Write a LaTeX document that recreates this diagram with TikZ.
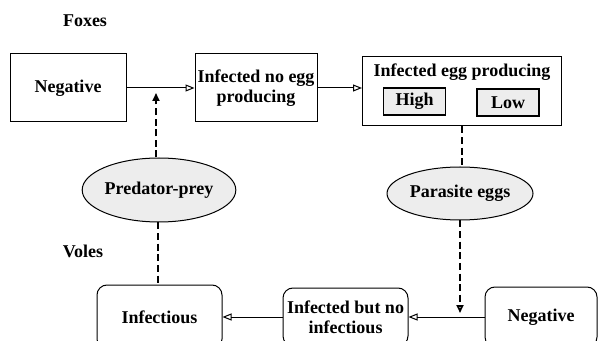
\documentclass[tikz,border=0pt]{standalone}
\usepackage{fontspec}
\setmainfont{Liberation Serif}
\usetikzlibrary{shapes.geometric,arrows.meta,calc}

\begin{document}
\begin{tikzpicture}[x=0.5pt,y=-0.5pt,
		font=\bfseries\fontsize{9}{10}\selectfont,
		statebox/.style={draw,line width=0.5pt,inner sep=1pt,align=center},
		levelbox/.style={draw,line width=0.6pt,fill=gray!14,inner sep=0pt,minimum width=31pt,minimum height=13.5pt},
		routeoval/.style={ellipse,draw,line width=0.5pt,fill=gray!14,inner sep=0pt},
		flow/.style={-{Triangle[open,length=4.5pt,width=3.5pt]},line width=0.5pt},
		route/.style={line width=0.9pt,dash pattern=on 3.5pt off 1.8pt}
		]
		\clip (0,0) rectangle (598,341);
		\useasboundingbox (0,0) rectangle (598,341);

		\node (foxes) at (85,21) {Foxes};
		\node (voles) at (83,251) {Voles};

		\node[statebox, minimum width=58pt, minimum height=34pt] (fneg) at (68,88) {Negative};
		\node[statebox, minimum width=61pt, minimum height=34pt] (fnoegg) at (256,88) {Infected no egg\\producing};
		\node[statebox, minimum width=99.5pt, minimum height=34.5pt] (fegg) at (462,91.5) {};
		\node (eggtitle) at (462,72) {Infected egg producing};
		\node[levelbox] (high) at (414.5,101.5) {High};
		\node[levelbox] (low) at (508,102.5) {Low};

		\node[routeoval, minimum width=67.5pt, minimum height=32pt] (predprey) at (159,190) {Predator-prey};
		\node[routeoval, minimum width=73pt, minimum height=26.5pt] (paraeggs) at (460,193.5) {Parasite eggs};

		\node[statebox, rounded corners=5pt, minimum width=62.5pt, minimum height=32pt] (vinf) at (159.5,317) {Infectious};
		\node[statebox, rounded corners=5pt, minimum width=62.5pt, minimum height=29pt] (vnoinf) at (345.5,317) {Infected but no\\infectious};
		\node[statebox, rounded corners=5pt, minimum width=56pt, minimum height=30pt] (vneg) at (541,317) {Negative};

		\draw[flow] (fneg.east) -- (fnoegg.west);
		\draw[flow] (fnoegg.east) -- (fnoegg.east -| fegg.west);
		\draw[flow] (vneg.west) -- (vnoinf.east);
		\draw[flow] (vnoinf.west) -- (vinf.east);

		\coordinate (foxhit) at ($(predprey.north |- fneg.east)+(-3,0)$);
		\draw[route, -{Triangle[length=4pt,width=3.5pt]}] ($(predprey.north)+(-3,0)$) -- ($(foxhit)+(0,5)$);
		\draw[route] ($(predprey.south)+(-1,0)$) -- ($(predprey.south |- vinf.north)+(-1,0)$);
		\draw[route] (fegg.south) -- (fegg.south |- paraeggs.north);
		\draw[route, -{Triangle[open,length=4pt,width=3.5pt]}] (paraeggs.south) -- ($(paraeggs.south |- vneg.west)+(0,-4)$);
	\end{tikzpicture}
\end{document}
